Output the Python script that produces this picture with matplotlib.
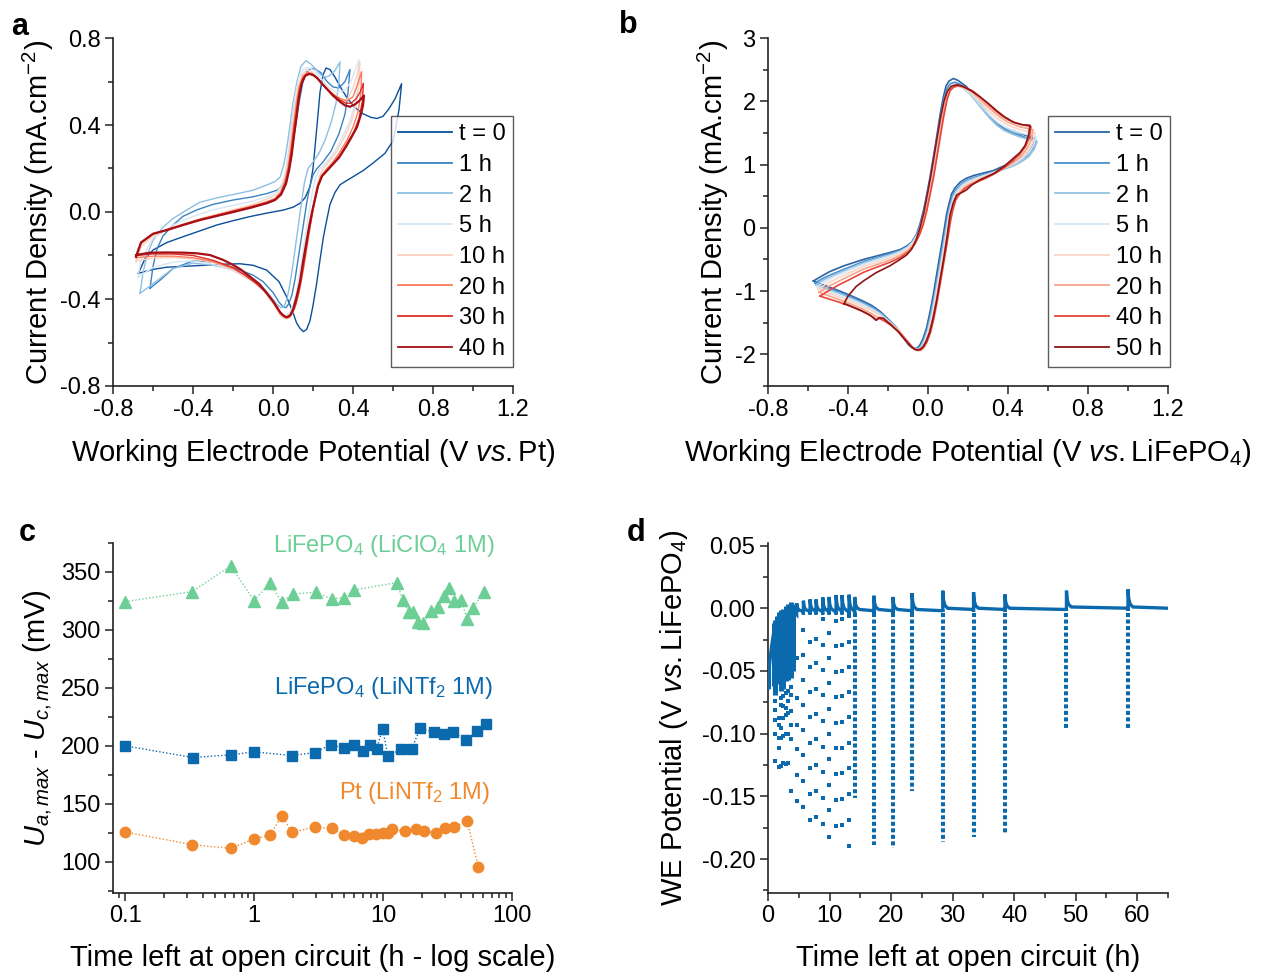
import numpy as np
import matplotlib
matplotlib.use('Agg')
import matplotlib.pyplot as plt
from matplotlib.ticker import MultipleLocator, FixedLocator, NullFormatter, FormatStrFormatter, LogLocator

plt.rcParams['font.family'] = ['Liberation Sans', 'DejaVu Sans']
plt.rcParams['mathtext.fontset'] = 'custom'
plt.rcParams['mathtext.rm'] = 'Liberation Sans'
plt.rcParams['mathtext.it'] = 'Liberation Sans:italic'
plt.rcParams['mathtext.bf'] = 'Liberation Sans:bold'
plt.rcParams['axes.unicode_minus'] = False

# ---------------- Panel a data (V vs Pt, mA/cm2) ----------------
a_labels = ['t = 0', '1 h', '2 h', '5 h', '10 h', '20 h', '30 h', '40 h']
a_0h = [(-0.673,-0.282),(-0.64,-0.215),(-0.6,-0.175),(-0.53,-0.14),(-0.448,-0.113),(-0.36,-0.085),(-0.282,-0.06),
        (-0.2,-0.04),(-0.115,-0.021),(-0.03,-0.005),(0.052,0.009),(0.1,0.022),(0.135,0.04),(0.16,0.065),(0.185,0.116),
        (0.2,0.2),(0.218,0.377),(0.235,0.55),(0.25,0.63),(0.265,0.662),(0.285,0.655),(0.31,0.62),(0.34,0.57),(0.37,0.525),
        (0.41,0.48),(0.45,0.452),(0.49,0.435),(0.52,0.43),(0.55,0.44),(0.58,0.475),(0.61,0.52),(0.643,0.59),
        (0.63,0.47),(0.602,0.33),(0.56,0.27),(0.5,0.225),(0.45,0.19),(0.40,0.162),(0.36,0.14),(0.335,0.125),(0.31,0.09),
        (0.285,0.035),(0.268,-0.04),(0.252,-0.115),(0.235,-0.22),(0.218,-0.33),(0.2,-0.43),(0.185,-0.5),(0.168,-0.54),
        (0.152,-0.55),(0.135,-0.535),(0.118,-0.51),(0.095,-0.45),(0.068,-0.39),(0.03,-0.32),(-0.032,-0.267),(-0.1,-0.245),
        (-0.165,-0.238),(-0.25,-0.24),(-0.365,-0.246),(-0.45,-0.25),(-0.532,-0.254),(-0.6,-0.264),(-0.673,-0.282)]
a_1h = [(-0.615,-0.351),(-0.6,-0.25),(-0.58,-0.17),(-0.55,-0.11),(-0.5,-0.06),(-0.45,-0.02),(-0.38,0.01),(-0.3,0.035),
        (-0.2,0.055),(-0.1,0.07),(-0.03,0.085),(0.02,0.1),(0.05,0.125),(0.07,0.17),(0.09,0.26),(0.11,0.38),(0.13,0.5),
        (0.15,0.6),(0.17,0.645),(0.19,0.66),(0.21,0.658),(0.24,0.64),(0.27,0.6),(0.3,0.575),(0.33,0.57),(0.36,0.6),
        (0.385,0.655),(0.375,0.55),(0.36,0.45),(0.33,0.36),(0.29,0.28),(0.25,0.23),(0.22,0.2),(0.2,0.17),(0.185,0.12),
        (0.17,0.05),(0.155,-0.04),(0.14,-0.13),(0.125,-0.22),(0.11,-0.31),(0.095,-0.38),(0.08,-0.42),(0.065,-0.44),
        (0.05,-0.435),(0.03,-0.415),(0.0,-0.37),(-0.05,-0.32),(-0.1,-0.29),(-0.2,-0.255),(-0.3,-0.23),(-0.4,-0.225),
        (-0.5,-0.26),(-0.56,-0.31),(-0.615,-0.351)]
a_2h = [(-0.665,-0.374),(-0.65,-0.28),(-0.63,-0.2),(-0.6,-0.13),(-0.55,-0.07),(-0.5,-0.03),(-0.43,0.01),(-0.365,0.045),
        (-0.28,0.065),(-0.2,0.08),(-0.1,0.1),(-0.032,0.124),(0.01,0.14),(0.035,0.16),(0.055,0.22),(0.07,0.3),(0.085,0.4),
        (0.1,0.5),(0.12,0.6),(0.14,0.67),(0.165,0.696),(0.19,0.68),(0.215,0.655),(0.24,0.63),(0.26,0.62),(0.28,0.625),
        (0.31,0.65),(0.335,0.69),(0.33,0.6),(0.315,0.5),(0.29,0.41),(0.26,0.33),(0.23,0.27),(0.2,0.23),(0.175,0.2),
        (0.158,0.14),(0.145,0.06),(0.13,-0.04),(0.115,-0.14),(0.1,-0.24),(0.085,-0.33),(0.07,-0.4),(0.055,-0.435),
        (0.04,-0.44),(0.02,-0.425),(-0.01,-0.39),(-0.06,-0.335),(-0.12,-0.295),(-0.2,-0.265),(-0.3,-0.245),(-0.4,-0.235),
        (-0.5,-0.26),(-0.6,-0.33),(-0.665,-0.374)]
a_5h = [(-0.675,-0.3),(-0.66,-0.22),(-0.6,-0.12),(-0.5,-0.06),(-0.4,-0.02),(-0.3,0.01),(-0.2,0.03),(-0.1,0.05),
        (-0.03,0.07),(0.02,0.09),(0.045,0.13),(0.065,0.2),(0.08,0.3),(0.095,0.42),(0.11,0.53),(0.13,0.62),(0.15,0.655),
        (0.17,0.665),(0.2,0.655),(0.24,0.615),(0.28,0.57),(0.32,0.55),(0.36,0.56),(0.39,0.6),(0.43,0.70),
        (0.425,0.6),(0.41,0.5),(0.385,0.42),(0.35,0.35),(0.31,0.28),(0.27,0.23),(0.235,0.2),(0.21,0.15),(0.195,0.08),
        (0.18,0.0),(0.165,-0.09),(0.15,-0.18),(0.135,-0.27),(0.12,-0.36),(0.1,-0.43),(0.08,-0.465),(0.06,-0.475),
        (0.04,-0.465),(0.01,-0.43),(-0.04,-0.37),(-0.1,-0.32),(-0.2,-0.27),(-0.3,-0.24),(-0.4,-0.225),(-0.5,-0.23),
        (-0.6,-0.255),(-0.675,-0.3)]
a_10h = [(-0.685,-0.23),(-0.66,-0.16),(-0.6,-0.11),(-0.5,-0.07),(-0.4,-0.04),(-0.3,-0.015),(-0.2,0.01),(-0.1,0.035),
         (-0.03,0.06),(0.02,0.08),(0.045,0.115),(0.065,0.18),(0.08,0.27),(0.095,0.38),(0.11,0.49),(0.125,0.57),(0.145,0.63),
         (0.168,0.653),(0.19,0.648),(0.22,0.62),(0.26,0.58),(0.3,0.545),(0.34,0.52),(0.37,0.515),(0.4,0.57),(0.42,0.63),
         (0.435,0.69),(0.43,0.59),(0.415,0.49),(0.39,0.41),(0.36,0.35),(0.32,0.28),(0.28,0.23),(0.25,0.2),(0.23,0.16),
         (0.215,0.1),(0.2,0.02),(0.185,-0.07),(0.17,-0.16),(0.155,-0.25),(0.135,-0.34),(0.115,-0.42),(0.095,-0.47),
         (0.075,-0.49),(0.055,-0.49),(0.035,-0.475),(0.0,-0.42),(-0.05,-0.36),(-0.1,-0.32),(-0.2,-0.265),(-0.3,-0.232),
         (-0.4,-0.215),(-0.5,-0.21),(-0.6,-0.212),(-0.685,-0.225)]
a_20h = [(-0.685,-0.21),(-0.66,-0.145),(-0.6,-0.102),(-0.53,-0.08),(-0.45,-0.057),(-0.365,-0.033),(-0.28,-0.013),
         (-0.2,0.006),(-0.11,0.026),(-0.032,0.047),(0.01,0.062),(0.038,0.09),(0.06,0.14),(0.076,0.21),(0.09,0.3),
         (0.103,0.4),(0.117,0.5),(0.132,0.58),(0.15,0.625),(0.172,0.642),(0.195,0.637),(0.22,0.615),(0.25,0.583),
         (0.28,0.556),(0.31,0.535),(0.34,0.52),(0.37,0.51),(0.4,0.53),(0.42,0.58),(0.443,0.645),
         (0.44,0.55),(0.425,0.46),(0.4,0.39),(0.37,0.33),(0.33,0.27),(0.295,0.225),(0.265,0.195),(0.24,0.165),
         (0.222,0.115),(0.207,0.05),(0.193,-0.03),(0.178,-0.11),(0.163,-0.2),(0.147,-0.29),(0.13,-0.37),(0.11,-0.44),
         (0.09,-0.477),(0.072,-0.488),(0.054,-0.482),(0.035,-0.465),(0.0,-0.415),(-0.04,-0.365),(-0.09,-0.325),
         (-0.15,-0.285),(-0.2,-0.26),(-0.3,-0.228),(-0.4,-0.21),(-0.5,-0.203),(-0.6,-0.203),(-0.685,-0.21)]
a_30h = [(-0.685,-0.208),(-0.66,-0.142),(-0.6,-0.101),(-0.53,-0.082),(-0.45,-0.059),(-0.365,-0.035),(-0.28,-0.016),
         (-0.2,0.003),(-0.11,0.023),(-0.032,0.043),(0.01,0.058),(0.039,0.085),(0.062,0.135),(0.078,0.2),(0.091,0.28),
         (0.104,0.375),(0.118,0.47),(0.131,0.555),(0.146,0.607),(0.165,0.632),(0.185,0.636),(0.21,0.625),(0.24,0.595),
         (0.27,0.565),(0.3,0.54),(0.335,0.515),(0.365,0.5),(0.39,0.5),(0.415,0.52),(0.435,0.55),(0.452,0.592),
         (0.447,0.51),(0.43,0.43),(0.405,0.37),(0.37,0.315),(0.335,0.262),(0.3,0.222),(0.27,0.192),(0.245,0.165),
         (0.225,0.117),(0.21,0.055),(0.195,-0.015),(0.18,-0.09),(0.165,-0.175),(0.15,-0.26),(0.133,-0.35),(0.115,-0.42),
         (0.095,-0.465),(0.078,-0.484),(0.06,-0.482),(0.04,-0.468),(0.005,-0.415),(-0.035,-0.37),(-0.08,-0.33),
         (-0.14,-0.29),(-0.2,-0.255),(-0.3,-0.222),(-0.4,-0.2),(-0.5,-0.193),(-0.6,-0.193),(-0.685,-0.2)]
a_40h = [(-0.685,-0.205),(-0.66,-0.14),(-0.60,-0.10),(-0.53,-0.083),(-0.45,-0.06),(-0.365,-0.037),(-0.28,-0.018),
         (-0.198,0.0),(-0.11,0.02),(-0.032,0.040),(0.01,0.055),(0.04,0.08),(0.065,0.13),(0.08,0.19),(0.093,0.26),
         (0.105,0.35),(0.118,0.44),(0.13,0.53),(0.143,0.59),(0.16,0.625),(0.18,0.635),(0.20,0.630),(0.22,0.617),
         (0.25,0.585),(0.27,0.565),(0.30,0.535),(0.335,0.507),(0.36,0.49),(0.385,0.484),(0.41,0.495),(0.43,0.51),
         (0.455,0.535),(0.45,0.49),(0.44,0.45),(0.42,0.39),(0.39,0.34),(0.365,0.30),(0.33,0.25),(0.30,0.22),(0.27,0.19),
         (0.245,0.165),(0.225,0.12),(0.21,0.06),(0.195,0.0),(0.18,-0.07),(0.165,-0.15),(0.15,-0.23),(0.135,-0.32),
         (0.118,-0.39),(0.10,-0.45),(0.085,-0.475),(0.068,-0.484),(0.05,-0.475),(0.035,-0.46),(0.0,-0.41),(-0.032,-0.372),
         (-0.07,-0.33),(-0.115,-0.297),(-0.16,-0.265),(-0.198,-0.244),(-0.25,-0.22),(-0.315,-0.198),(-0.38,-0.19),
         (-0.448,-0.187),(-0.53,-0.186),(-0.615,-0.187),(-0.685,-0.198)]
a_curves = [a_0h, a_1h, a_2h, a_5h, a_10h, a_20h, a_30h, a_40h]

# ---------------- Panel b data (V vs LiFePO4, mA/cm2) ----------------
b_labels = ['t = 0', '1 h', '2 h', '5 h', '10 h', '20 h', '40 h', '50 h']
b_0h = [(-0.573,-0.84),(-0.53,-0.76),(-0.49,-0.69),(-0.42,-0.6),(-0.323,-0.50),(-0.25,-0.44),(-0.19,-0.39),(-0.14,-0.345),
        (-0.107,-0.29),(-0.08,-0.22),(-0.057,-0.10),(-0.04,0.06),(-0.023,0.27),(-0.005,0.55),(0.01,0.80),(0.027,1.12),
        (0.043,1.43),(0.06,1.78),(0.077,2.07),(0.09,2.24),(0.105,2.32),(0.127,2.36),(0.15,2.33),(0.193,2.23),(0.225,2.10),
        (0.26,1.96),(0.295,1.82),(0.327,1.70),(0.36,1.62),(0.393,1.57),(0.43,1.53),(0.46,1.49),(0.5,1.45),(0.535,1.41),
        (0.52,1.28),(0.493,1.17),(0.46,1.10),(0.427,1.04),(0.38,0.98),(0.327,0.905),(0.27,0.86),(0.227,0.825),(0.19,0.78),
        (0.16,0.72),(0.135,0.63),(0.118,0.535),(0.105,0.38),(0.093,0.217),(0.077,-0.1),(0.06,-0.42),(0.043,-0.74),
        (0.027,-1.05),(0.01,-1.33),(-0.007,-1.58),(-0.025,-1.75),(-0.04,-1.85),(-0.052,-1.895),(-0.065,-1.91),
        (-0.08,-1.895),(-0.098,-1.85),(-0.125,-1.72),(-0.157,-1.58),(-0.2,-1.44),(-0.24,-1.32),(-0.28,-1.23),
        (-0.323,-1.16),(-0.38,-1.08),(-0.44,-1.0),(-0.5,-0.93),(-0.573,-0.84)]
b_1h = [(-0.565,-0.87),(-0.52,-0.79),(-0.47,-0.72),(-0.4,-0.63),(-0.32,-0.53),(-0.25,-0.465),(-0.19,-0.41),(-0.14,-0.36),
        (-0.105,-0.30),(-0.078,-0.22),(-0.055,-0.1),(-0.037,0.06),(-0.02,0.27),(-0.002,0.55),(0.013,0.80),(0.03,1.12),
        (0.046,1.43),(0.063,1.76),(0.08,2.04),(0.095,2.2),(0.112,2.28),(0.135,2.3),(0.16,2.27),(0.2,2.17),(0.235,2.04),
        (0.27,1.9),(0.305,1.76),(0.34,1.65),(0.375,1.57),(0.41,1.52),(0.45,1.47),(0.495,1.42),(0.54,1.38),
        (0.525,1.26),(0.5,1.15),(0.465,1.07),(0.43,1.01),(0.38,0.95),(0.33,0.89),(0.28,0.84),(0.235,0.8),(0.197,0.755),
        (0.167,0.7),(0.142,0.61),(0.124,0.52),(0.11,0.37),(0.098,0.2),(0.082,-0.12),(0.065,-0.44),(0.048,-0.76),
        (0.031,-1.07),(0.014,-1.35),(-0.003,-1.59),(-0.021,-1.76),(-0.036,-1.86),(-0.049,-1.9),(-0.062,-1.915),
        (-0.077,-1.9),(-0.095,-1.85),(-0.122,-1.73),(-0.155,-1.59),(-0.2,-1.45),(-0.24,-1.34),(-0.28,-1.25),
        (-0.323,-1.18),(-0.38,-1.1),(-0.44,-1.02),(-0.5,-0.95),(-0.565,-0.87)]
b_2h = [(-0.56,-0.9),(-0.515,-0.81),(-0.465,-0.74),(-0.4,-0.65),(-0.32,-0.55),(-0.25,-0.48),(-0.19,-0.425),(-0.14,-0.37),
        (-0.103,-0.305),(-0.076,-0.22),(-0.053,-0.1),(-0.035,0.06),(-0.018,0.27),(0.0,0.55),(0.016,0.80),(0.033,1.12),
        (0.049,1.43),(0.066,1.75),(0.083,2.02),(0.099,2.17),(0.117,2.24),(0.14,2.26),(0.165,2.23),(0.205,2.13),(0.24,2.0),
        (0.275,1.86),(0.31,1.73),(0.345,1.62),(0.38,1.54),(0.415,1.49),(0.455,1.44),(0.5,1.4),(0.545,1.36),
        (0.53,1.24),(0.505,1.13),(0.47,1.05),(0.435,0.99),(0.385,0.93),(0.335,0.875),(0.285,0.83),(0.24,0.79),(0.2,0.745),
        (0.17,0.69),(0.145,0.6),(0.127,0.51),(0.113,0.36),(0.101,0.19),(0.085,-0.13),(0.068,-0.45),(0.051,-0.77),
        (0.034,-1.08),(0.017,-1.36),(0.0,-1.6),(-0.018,-1.77),(-0.033,-1.87),(-0.046,-1.91),(-0.06,-1.92),(-0.075,-1.905),
        (-0.093,-1.85),(-0.12,-1.73),(-0.153,-1.6),(-0.2,-1.46),(-0.24,-1.35),(-0.28,-1.27),(-0.323,-1.2),(-0.38,-1.12),
        (-0.44,-1.04),(-0.5,-0.97),(-0.56,-0.9)]
b_5h = [(-0.555,-0.93),(-0.51,-0.84),(-0.46,-0.76),(-0.4,-0.68),(-0.32,-0.575),(-0.25,-0.505),(-0.19,-0.445),(-0.14,-0.385),
        (-0.1,-0.31),(-0.073,-0.22),(-0.05,-0.1),(-0.032,0.06),(-0.015,0.27),(0.003,0.55),(0.019,0.8),(0.036,1.12),
        (0.052,1.43),(0.069,1.75),(0.086,2.02),(0.102,2.16),(0.12,2.23),(0.145,2.25),(0.17,2.22),(0.21,2.13),(0.245,2.01),
        (0.28,1.88),(0.315,1.76),(0.35,1.66),(0.385,1.59),(0.42,1.54),(0.46,1.5),(0.5,1.47),(0.54,1.44),
        (0.527,1.3),(0.503,1.18),(0.47,1.09),(0.435,1.02),(0.385,0.95),(0.335,0.885),(0.285,0.83),(0.24,0.78),(0.203,0.73),
        (0.173,0.67),(0.148,0.58),(0.13,0.49),(0.116,0.34),(0.104,0.17),(0.088,-0.15),(0.071,-0.47),(0.054,-0.79),
        (0.037,-1.1),(0.02,-1.38),(0.003,-1.61),(-0.015,-1.78),(-0.03,-1.875),(-0.043,-1.915),(-0.058,-1.925),
        (-0.073,-1.91),(-0.091,-1.855),(-0.118,-1.74),(-0.15,-1.61),(-0.2,-1.47),(-0.24,-1.37),(-0.28,-1.29),
        (-0.323,-1.22),(-0.38,-1.14),(-0.44,-1.07),(-0.5,-1.0),(-0.555,-0.93)]
b_10h = [(-0.55,-0.97),(-0.505,-0.88),(-0.455,-0.8),(-0.4,-0.72),(-0.32,-0.61),(-0.25,-0.54),(-0.19,-0.475),(-0.14,-0.41),
         (-0.098,-0.33),(-0.07,-0.23),(-0.047,-0.1),(-0.029,0.06),(-0.012,0.27),(0.006,0.55),(0.022,0.8),(0.039,1.12),
         (0.055,1.43),(0.072,1.75),(0.089,2.02),(0.105,2.16),(0.124,2.22),(0.15,2.24),(0.175,2.22),(0.215,2.14),(0.25,2.03),
         (0.285,1.91),(0.32,1.8),(0.355,1.71),(0.39,1.64),(0.425,1.59),(0.46,1.55),(0.5,1.52),(0.535,1.5),
         (0.523,1.34),(0.5,1.21),(0.468,1.11),(0.433,1.03),(0.385,0.95),(0.335,0.875),(0.285,0.81),(0.242,0.76),
         (0.206,0.71),(0.176,0.65),(0.151,0.56),(0.133,0.47),(0.119,0.32),(0.107,0.15),(0.091,-0.17),(0.074,-0.49),
         (0.057,-0.81),(0.04,-1.12),(0.023,-1.4),(0.006,-1.63),(-0.012,-1.79),(-0.027,-1.88),(-0.04,-1.92),(-0.055,-1.93),
         (-0.07,-1.915),(-0.088,-1.86),(-0.115,-1.75),(-0.148,-1.62),(-0.2,-1.48),(-0.24,-1.39),(-0.28,-1.31),
         (-0.323,-1.25),(-0.38,-1.17),(-0.44,-1.1),(-0.5,-1.03),(-0.55,-0.97)]
b_20h = [(-0.545,-1.02),(-0.5,-0.93),(-0.45,-0.85),(-0.4,-0.77),(-0.32,-0.65),(-0.25,-0.575),(-0.19,-0.51),(-0.14,-0.44),
         (-0.096,-0.35),(-0.067,-0.24),(-0.044,-0.1),(-0.026,0.06),(-0.009,0.27),(0.009,0.55),(0.025,0.8),(0.042,1.12),
         (0.058,1.43),(0.075,1.75),(0.092,2.02),(0.108,2.16),(0.127,2.22),(0.15,2.24),(0.178,2.22),(0.22,2.15),(0.255,2.05),
         (0.29,1.94),(0.325,1.84),(0.36,1.75),(0.395,1.68),(0.43,1.63),(0.465,1.59),(0.5,1.57),(0.525,1.55),
         (0.515,1.38),(0.493,1.24),(0.463,1.13),(0.43,1.04),(0.385,0.95),(0.335,0.86),(0.287,0.79),(0.245,0.74),
         (0.209,0.69),(0.179,0.63),(0.154,0.54),(0.136,0.45),(0.122,0.3),(0.11,0.13),(0.094,-0.19),(0.077,-0.51),
         (0.06,-0.83),(0.043,-1.14),(0.026,-1.42),(0.009,-1.645),(-0.009,-1.8),(-0.024,-1.885),(-0.037,-1.925),
         (-0.052,-1.935),(-0.067,-1.92),(-0.085,-1.865),(-0.112,-1.76),(-0.145,-1.63),(-0.19,-1.51),(-0.23,-1.43),
         (-0.25,-1.42),(-0.28,-1.36),(-0.323,-1.29),(-0.38,-1.21),(-0.44,-1.14),(-0.5,-1.07),(-0.545,-1.02)]
b_40h = [(-0.54,-1.08),(-0.495,-0.99),(-0.445,-0.9),(-0.4,-0.83),(-0.32,-0.7),(-0.25,-0.615),(-0.19,-0.545),(-0.14,-0.47),
         (-0.094,-0.37),(-0.064,-0.25),(-0.041,-0.1),(-0.023,0.06),(-0.006,0.27),(0.012,0.55),(0.028,0.8),(0.045,1.12),
         (0.061,1.43),(0.078,1.75),(0.095,2.02),(0.111,2.17),(0.13,2.23),(0.152,2.25),(0.18,2.23),(0.225,2.16),(0.26,2.07),
         (0.295,1.97),(0.33,1.87),(0.365,1.78),(0.4,1.71),(0.435,1.66),(0.47,1.63),(0.5,1.61),(0.515,1.6),
         (0.507,1.43),(0.487,1.28),(0.458,1.16),(0.427,1.07),(0.385,0.96),(0.335,0.86),(0.29,0.785),(0.25,0.73),
         (0.213,0.675),(0.182,0.615),(0.157,0.53),(0.139,0.44),(0.125,0.29),(0.113,0.11),(0.097,-0.21),(0.08,-0.53),
         (0.063,-0.85),(0.046,-1.16),(0.029,-1.44),(0.012,-1.66),(-0.006,-1.81),(-0.021,-1.89),(-0.034,-1.93),
         (-0.049,-1.94),(-0.064,-1.925),(-0.082,-1.87),(-0.11,-1.77),(-0.143,-1.65),(-0.185,-1.54),(-0.22,-1.47),
         (-0.245,-1.43),(-0.257,-1.46),(-0.275,-1.41),(-0.32,-1.33),(-0.38,-1.25),(-0.44,-1.18),(-0.5,-1.12),(-0.54,-1.08)]
b_50h = [(-0.42,-1.2),(-0.4,-1.08),(-0.36,-0.93),(-0.323,-0.84),(-0.26,-0.71),(-0.19,-0.6),(-0.14,-0.5),(-0.107,-0.43),
         (-0.08,-0.33),(-0.057,-0.17),(-0.038,0.02),(-0.02,0.25),(-0.003,0.53),(0.013,0.8),(0.03,1.12),(0.046,1.43),
         (0.063,1.74),(0.08,2.0),(0.097,2.16),(0.118,2.24),(0.143,2.26),(0.17,2.24),(0.215,2.17),(0.26,2.07),(0.3,1.97),
         (0.34,1.86),(0.38,1.76),(0.427,1.67),(0.47,1.63),(0.51,1.62),
         (0.502,1.45),(0.485,1.3),(0.46,1.19),(0.427,1.1),(0.38,0.97),(0.33,0.86),(0.26,0.76),(0.22,0.68),(0.193,0.6),
         (0.17,0.56),(0.143,0.52),(0.125,0.38),(0.11,0.2),(0.095,-0.15),(0.078,-0.5),(0.06,-0.83),(0.043,-1.15),
         (0.025,-1.43),(0.008,-1.65),(-0.01,-1.8),(-0.025,-1.88),(-0.04,-1.92),(-0.057,-1.93),(-0.072,-1.91),(-0.09,-1.86),
         (-0.118,-1.76),(-0.15,-1.64),(-0.19,-1.52),(-0.223,-1.43),(-0.245,-1.42),(-0.26,-1.46),(-0.29,-1.38),
         (-0.34,-1.3),(-0.407,-1.21),(-0.42,-1.2)]
b_curves = [b_0h, b_1h, b_2h, b_5h, b_10h, b_20h, b_40h, b_50h]

# ---------------- Panel c data ----------------
c_licl_t = [0.1, 0.33, 0.66, 1.0, 1.33, 1.64, 2.0, 3.0, 4.0, 5.0, 6.0, 12.8, 14.2, 15.9, 17.2, 18.6, 20.5, 23.6, 26.6,
            29.8, 32.5, 35.6, 40.5, 44.8, 50.1, 60.5]
c_licl_v = [324.4, 333.0, 355.2, 325.3, 340.3, 323.9, 331.0, 332.5, 326.7, 327.9, 334.5, 340.8, 325.9, 315.2, 315.2,
            307.2, 305.8, 316.4, 320.1, 329.3, 335.9, 325.3, 325.9, 309.2, 319.3, 333.0]
c_lfp_t = [0.1, 0.335, 0.66, 1.0, 1.97, 2.96, 3.94, 4.97, 5.94, 6.96, 7.9, 8.93, 9.95, 10.9, 13.8, 16.7, 19.5, 24.8,
           29.6, 34.7, 44.3, 53.8, 63.2]
c_lfp_v = [200.0, 189.9, 192.2, 194.8, 191.6, 194.2, 201.1, 197.7, 201.1, 195.1, 200.3, 197.4, 214.7, 190.8, 197.1,
           197.4, 215.5, 211.5, 210.6, 212.3, 204.6, 213.2, 219.0]
c_pt_t = [0.1, 0.333, 0.66, 1.0, 1.33, 1.64, 1.98, 2.96, 3.99, 4.97, 5.94, 6.92, 7.84, 8.83, 9.95, 10.9, 11.8, 14.8,
          17.9, 20.7, 25.7, 30.5, 35.6, 44.8, 54.8]
c_pt_v = [125.6, 114.7, 111.5, 119.6, 123.0, 139.4, 125.3, 129.9, 128.7, 122.7, 122.1, 120.7, 123.9, 124.1, 124.7,
          124.7, 127.9, 126.1, 127.9, 126.1, 125.0, 129.3, 129.9, 135.3, 95.7]
c_texts = ['LiFePO$_4$ (LiClO$_4$ 1M)', 'LiFePO$_4$ (LiNTf$_2$ 1M)', 'Pt (LiNTf$_2$ 1M)']

# ---------------- Panel d data ----------------
d_start_t = [0.0, 0.1, 0.3, 0.6, 0.9]
d_start_v = [-0.064, -0.052, -0.042, -0.030, -0.020]
d_early_t = [0.9, 1.14, 1.45, 1.79, 2.11, 2.49, 2.93, 3.30, 3.74, 4.05]
d_early_top = [-0.012, -0.0097, -0.006, -0.0032, -0.0015, -0.0005, 0.0021, 0.0034, 0.0047, 0.003]
d_early_bot = [-0.062, -0.069, -0.060, -0.058, -0.066, -0.064, -0.058, -0.057, -0.056, -0.050]
d_sparse_early = {
    1.14: [-0.0742, -0.0808, -0.0887, -0.1006, -0.1216],
    1.79: [-0.0874, -0.0927, -0.1032, -0.1111, -0.1269],
    2.11: [-0.0716, -0.0769, -0.0953, -0.1032, -0.1256],
    2.49: [-0.0703, -0.0782, -0.0874, -0.1019, -0.1230],
    2.93: [-0.0677, -0.0795, -0.0848, -0.1006, -0.1243],
    3.30: [-0.0663, -0.0742, -0.0835, -0.1006, -0.1230],
    3.74: [-0.0624, -0.0690, -0.0821, -0.0927, -0.1046, -0.1453],
}
d_sparse_cols = {
    4.66: [-0.040, -0.0716, -0.0927, -0.1124, -0.1327, -0.1538],
    5.75: [-0.0176, -0.0369, -0.0571, -0.0769, -0.0971, -0.1169, -0.1374, -0.1585],
    6.83: [-0.0269, -0.0466, -0.0669, -0.0869, -0.1072, -0.1274, -0.1480, -0.1685],
    7.80: [-0.0242, -0.0440, -0.0642, -0.0842, -0.1045, -0.1248, -0.1459, -0.1664],
    8.89: [-0.0089, -0.0295, -0.0493, -0.0695, -0.0901, -0.1103, -0.1309, -0.1511, -0.1717],
    9.92: [-0.0195, -0.0395, -0.0598, -0.0800, -0.1006, -0.1203, -0.1406, -0.1611, -0.1822],
    11.06: [-0.0105, -0.0300, -0.0506, -0.0711, -0.0914, -0.1116, -0.1322, -0.1527, -0.1738],
    12.03: [-0.0089, -0.0295, -0.0500, -0.0703, -0.0906, -0.1111, -0.1317, -0.1519, -0.1730],
    13.17: [-0.0063, -0.0269, -0.0466, -0.0669, -0.0869, -0.1072, -0.1274, -0.1480, -0.1691, -0.1893],
}
d_col_t = [14.09, 17.2, 20.3, 23.4, 28.4, 33.4, 38.5, 48.5, 58.5]
d_col_min = [-0.151, -0.189, -0.191, -0.146, -0.186, -0.182, -0.179, -0.097, -0.096]
d_col_top = -0.004
d_spike_t = [4.66, 5.75, 6.83, 7.80, 8.89, 9.92, 11.06, 12.03, 13.17, 14.09, 17.2, 20.3, 23.4, 28.4, 33.4, 38.5,
             48.5, 58.5]
d_spike_peak = [0.004, 0.006, 0.007, 0.007, 0.0087, 0.009, 0.0105, 0.0105, 0.0108, 0.009, 0.010, 0.009, 0.012,
                0.014, 0.0128, 0.011, 0.014, 0.015]
d_spike_base = [-0.003, -0.003, -0.003, -0.003, -0.003, -0.003, -0.003, -0.003, -0.003, -0.002, -0.002, -0.002,
                -0.002, -0.001, -0.001, -0.001, 0.0, 0.0]
d_end_t = 65.0

# ---------------- styling ----------------
a_colors = ['#0b4f9c', '#3a83c0', '#8dbfe2', '#d6e6f4', '#fcd0bf', '#fb7b5b', '#de2d26', '#a50f15']
b_colors = ['#2b62a6', '#4a90c8', '#92c3e3', '#d4e6f4', '#fcd5c5', '#f5a58a', '#e8453a', '#8f1414']
c_green, c_blue, c_orange = '#6dcf96', '#0b69ad', '#f0882e'
d_color = '#0b69ad'
TICK = 17
LAB = 21
VS = '$\\mathit{vs.}$'

fig = plt.figure(figsize=(12.63, 9.73), dpi=100)
W, H = 1263.0, 973.0
def add_ax(l, t, r, b):
    return fig.add_axes([l / W, 1 - b / H, (r - l) / W, (b - t) / H])

ax_a = add_ax(113, 38, 513, 386)
ax_b = add_ax(768, 38, 1168, 386)
ax_c = add_ax(113, 543, 512, 893)
ax_d = add_ax(768, 543, 1168, 893)

def style(ax):
    for s in ['top', 'right']:
        ax.spines[s].set_visible(False)
    for s in ['left', 'bottom']:
        ax.spines[s].set_linewidth(1.2)
        ax.spines[s].set_color('#222222')
    ax.tick_params(which='major', direction='out', length=6, width=1.1, labelsize=TICK, pad=3, colors='#222222')
    ax.tick_params(which='minor', direction='out', length=3.5, width=1.1, colors='#222222')
    ax.tick_params(labelcolor='black')

def set_labels(ax, xl, yl, xy, yx):
    ax.set_xlabel(xl, fontsize=LAB)
    ax.set_ylabel(yl, fontsize=LAB)
    ax.xaxis.set_label_coords(0.5, xy)
    ax.yaxis.set_label_coords(yx, 0.5)
    ax.xaxis.label.set_va('center')
    ax.yaxis.label.set_va('center')

def legend(ax, x):
    leg = ax.legend(loc='upper right', bbox_to_anchor=(x, 0.776), fontsize=TICK, frameon=True, fancybox=False,
                    edgecolor='#333333', handlelength=2.3, handletextpad=0.3, labelspacing=0.37, borderpad=0.3,
                    borderaxespad=0)
    leg.get_frame().set_linewidth(1.0)
    for h in leg.get_lines():
        h.set_linewidth(1.3)

# ---- panel a ----
for pts, col, lab in zip(a_curves, a_colors, a_labels):
    xs = [p[0] for p in pts]
    ys = [p[1] for p in pts]
    lw = 1.6 if lab == '40 h' else 1.0
    ax_a.plot(xs, ys, color=col, lw=lw, label=lab, solid_joinstyle='round')
ax_a.set_xlim(-0.8, 1.2)
ax_a.set_ylim(-0.8, 0.8)
ax_a.xaxis.set_major_locator(MultipleLocator(0.4))
ax_a.xaxis.set_minor_locator(MultipleLocator(0.2))
ax_a.yaxis.set_major_locator(MultipleLocator(0.4))
ax_a.yaxis.set_minor_locator(MultipleLocator(0.2))
ax_a.xaxis.set_major_formatter(FormatStrFormatter('%.1f'))
ax_a.yaxis.set_major_formatter(FormatStrFormatter('%.1f'))
style(ax_a)
set_labels(ax_a, 'Working Electrode Potential (V ' + VS + 'Pt)', 'Current Density (mA.cm$^{-2}$)', -0.1925, -0.1875)
legend(ax_a, 1.0)

# ---- panel b ----
for pts, col, lab in zip(b_curves, b_colors, b_labels):
    xs = [p[0] for p in pts]
    ys = [p[1] for p in pts]
    ax_b.plot(xs, ys, color=col, lw=1.2, label=lab, solid_joinstyle='round')
ax_b.set_xlim(-0.8, 1.2)
ax_b.set_ylim(-2.5, 3.0)
ax_b.xaxis.set_major_locator(MultipleLocator(0.4))
ax_b.xaxis.set_minor_locator(MultipleLocator(0.2))
ax_b.yaxis.set_major_locator(MultipleLocator(1))
ax_b.yaxis.set_minor_locator(MultipleLocator(0.5))
ax_b.xaxis.set_major_formatter(FormatStrFormatter('%.1f'))
ax_b.yaxis.set_major_formatter(FormatStrFormatter('%d'))
style(ax_b)
set_labels(ax_b, 'Working Electrode Potential (V ' + VS + 'LiFePO$_4$)', 'Current Density (mA.cm$^{-2}$)',
           -0.1925, -0.1375)
legend(ax_b, 1.005)

# ---- panel c ----
ax_c.plot(c_licl_t, c_licl_v, ls=(0, (1, 1.5)), lw=1.0, color=c_green, marker='^', ms=8.5, mec=c_green, mfc=c_green)
ax_c.plot(c_lfp_t, c_lfp_v, ls=(0, (1, 1.5)), lw=1.0, color=c_blue, marker='s', ms=6.5, mec=c_blue, mfc=c_blue)
ax_c.plot(c_pt_t, c_pt_v, ls=(0, (1, 1.5)), lw=1.0, color=c_orange, marker='o', ms=7.5, mec=c_orange, mfc=c_orange)
ax_c.set_xscale('log')
ax_c.set_xlim(0.0807, 100)
ax_c.set_ylim(73, 375)
ax_c.xaxis.set_major_locator(FixedLocator([0.1, 1, 10, 100]))
ax_c.xaxis.set_minor_locator(LogLocator(base=10, subs=np.arange(2, 10)))
ax_c.xaxis.set_minor_formatter(NullFormatter())
ax_c.set_xticklabels(['0.1', '1', '10', '100'])
ax_c.yaxis.set_major_locator(MultipleLocator(50))
ax_c.yaxis.set_minor_locator(MultipleLocator(25))
style(ax_c)
set_labels(ax_c, 'Time left at open circuit (h - log scale)', '$U_{a,max}$ - $U_{c,max}$ (mV)', -0.186, -0.19)
ax_c.text(0.957, 0.991, c_texts[0], transform=ax_c.transAxes, ha='right', va='center', fontsize=TICK, color=c_green)
ax_c.text(0.952, 0.586, c_texts[1], transform=ax_c.transAxes, ha='right', va='center', fontsize=TICK, color=c_blue)
ax_c.text(0.945, 0.286, c_texts[2], transform=ax_c.transAxes, ha='right', va='center', fontsize=TICK, color=c_orange)

# ---- panel d ----
bt = list(d_start_t)
bv = list(d_start_v)
bt += [1.5, 2.5, 3.5, 4.3]
bv += [-0.008, -0.005, -0.003, -0.003]
for i, (ts, pk, bs) in enumerate(zip(d_spike_t, d_spike_peak, d_spike_base)):
    nxt = d_spike_t[i + 1] if i + 1 < len(d_spike_t) else d_end_t
    bt += [ts, ts, ts + 0.12, ts + 0.35, ts + 0.8, nxt - 0.01]
    bv += [bs - 0.002, pk, bs + (pk - bs) * 0.5, bs + (pk - bs) * 0.22, bs + 0.001, bs]
ax_d.plot(bt, bv, color=d_color, lw=2.4, solid_joinstyle='miter', zorder=3)
for t, tp, bo in zip(d_early_t, d_early_top, d_early_bot):
    ax_d.plot([t, t], [tp, bo], color=d_color, lw=3.6, solid_capstyle='butt', zorder=3)
ax_d.plot([0.2, 0.2], [-0.064, -0.040], color=d_color, lw=3.0, solid_capstyle='butt')
for t, vals in d_sparse_early.items():
    ax_d.plot([t] * len(vals), vals, ls='none', marker='s', ms=3.3, color=d_color, mew=0)
for t, vals in d_sparse_cols.items():
    ax_d.plot([t] * len(vals), vals, ls='none', marker='s', ms=3.3, color=d_color, mew=0)
for t, mn in zip(d_col_t, d_col_min):
    ln, = ax_d.plot([t, t], [d_col_top, mn], color=d_color, lw=2.9, solid_capstyle='butt', dash_capstyle='butt')
    ln.set_dashes((1.0, 0.62))
ax_d.set_xlim(0, 65)
ax_d.set_ylim(-0.227, 0.052)
ax_d.xaxis.set_major_locator(MultipleLocator(10))
ax_d.xaxis.set_minor_locator(MultipleLocator(5))
ax_d.yaxis.set_major_locator(MultipleLocator(0.05))
ax_d.yaxis.set_minor_locator(MultipleLocator(0.025))
ax_d.yaxis.set_major_formatter(FormatStrFormatter('%.2f'))
style(ax_d)
set_labels(ax_d, 'Time left at open circuit (h)', 'WE Potential (V ' + VS + 'LiFePO$_4$)', -0.186, -0.235)

for txt, x, y in [('a', 20, 27), ('b', 628, 25), ('c', 27, 533), ('d', 636, 533)]:
    fig.text(x / W, 1 - y / H, txt, fontsize=22, fontweight='bold', ha='center', va='center')

fig.savefig('out.png', dpi=100)
